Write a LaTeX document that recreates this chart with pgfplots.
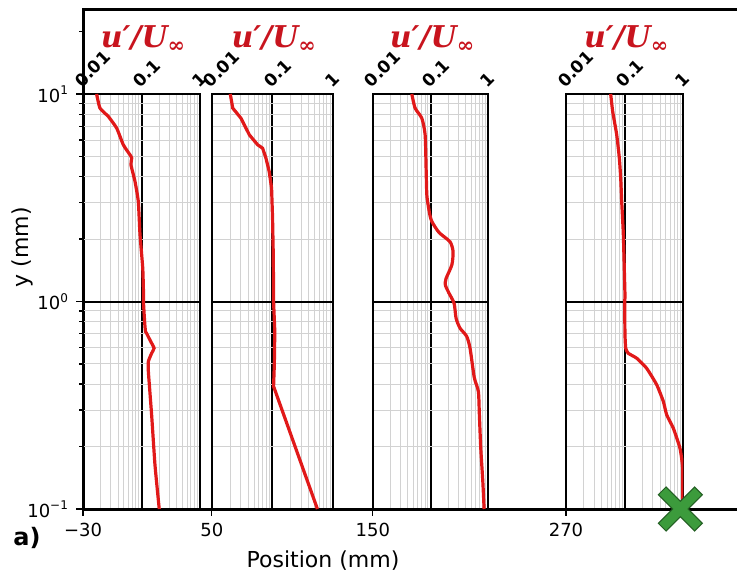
\documentclass[border=0pt]{standalone}
\usepackage{fontspec}
\setmainfont{DejaVu Sans}
\newfontfamily\tfont{DejaVu Serif}
\usepackage{pgfplots}
\pgfplotsset{compat=1.18}
\definecolor{linered}{RGB}{225,25,25}
\definecolor{titlered}{RGB}{200,20,30}
\definecolor{xgreen}{RGB}{60,155,60}
\definecolor{xdark}{RGB}{35,95,35}
\definecolor{gridgray}{RGB}{210,210,210}
\pgfplotsset{
  inset/.style={
    scale only axis, anchor=south west, height=207.5pt,
    xmin=0.01, xmax=1, ymin=0.1, ymax=10,
    xtick={0.01,0.1,1}, ytick={0.1,1,10},
    minor xtick={0.02,0.03,0.04,0.05,0.06,0.07,0.08,0.09,0.2,0.3,0.4,0.5,0.6,0.7,0.8,0.9},
    minor ytick={0.2,0.3,0.4,0.5,0.6,0.7,0.8,0.9,2,3,4,5,6,7,8,9},
    xticklabels={0.01,0.1,1}, yticklabels={},
    xticklabel pos=upper,
    xticklabel style={xshift=-0.4pt, yshift=2.5pt, rotate=45, anchor=south west, inner sep=0pt,
      font=\bfseries\fontsize{8.5}{9}\selectfont},
    major tick length=0pt, minor tick length=0pt,
    grid=both,
    major grid style={black, line width=1pt},
    minor grid style={gridgray, line width=0.5pt},
    axis line style={black, line width=1pt},
    title={\tfont\bfseries\itshape u′/U\textsubscript{∞}},
    title style={at={(axis description cs:0.5,1)}, anchor=base, xshift=1pt, yshift=17pt,
      text=titlered, font=\fontsize{15}{17}\selectfont},
  },
  prof/.style={linered, line width=1.6pt, no markers},
}
\begin{document}
\begin{tikzpicture}
\useasboundingbox (-41.5pt,-34pt) rectangle (327pt,254.5pt);
\begin{axis}[at={(0,0)}, anchor=south west, scale only axis,
  width=330.05pt, height=249.5pt, xmin=-30, xmax=380,
  ymode=log, ymin=0.1, ymax=25.4,
  xtick={-30,50,150,270}, xticklabels={−30,50,150,270},
  ytick={0.1,1,10}, yticklabels={10\textsuperscript{−1},10\textsuperscript{0},10\textsuperscript{1}},
  minor ytick={0.2,0.3,0.4,0.5,0.6,0.7,0.8,0.9,2,3,4,5,6,7,8,9,20},
  tick align=outside, xtick pos=left, ytick pos=left,
  major tick length=3.5pt, minor tick length=2pt,
  every tick/.style={black, line width=0.6pt},
  axis line style={line width=1.5pt},
  tick label style={font=\fontsize{9}{10}\selectfont},
  xlabel={Position (mm)}, ylabel={y (mm)},
  label style={font=\fontsize{11}{13}\selectfont},
  xlabel style={at={(axis description cs:0.3636,-0.1042)}, anchor=center},
  ylabel style={at={(axis description cs:-0.0924,0.525)}, anchor=center, rotate=0},
  title={a)},
  title style={at={(axis description cs:-0.0848,-0.0822)}, anchor=center,
    font=\bfseries\fontsize{12}{14}\selectfont},
  clip=false]
\coordinate (c1) at (axis cs:-30,0.1);
\coordinate (c2) at (axis cs:50,0.1);
\coordinate (c3) at (axis cs:150,0.1);
\coordinate (c4) at (axis cs:270,0.1);
\end{axis}

\begin{axis}[inset, xmode=log, ymode=log, at={(c1)}, width=58.5pt]
\addplot[prof, smooth, tension=0.3] coordinates {
(0.0171,10) (0.0195,8.55) (0.0271,7.79) (0.0377,6.84) (0.0489,5.69) (0.0636,5.09)
(0.068,4.91) (0.066,4.56) (0.0774,3.79) (0.0882,3.03) (0.0943,2.10) (0.105,1.45)
(0.108,1.12) (0.108,1.0) (0.113,0.80) (0.117,0.717) (0.123,0.70) (0.1436,0.642)
(0.164,0.596) (0.149,0.563) (0.131,0.514) (0.131,0.46) (0.149,0.284) (0.170,0.163) (0.201,0.1)};
\end{axis}

\begin{axis}[inset, xmode=log, ymode=log, at={(c2)}, width=60.5pt]
\addplot[prof] coordinates {
(0.0202,10) (0.0222,8.55) (0.0304,7.64) (0.0417,6.36) (0.0573,5.69) (0.0692,5.48)
(0.0785,4.91) (0.0889,4.23) (0.0973,3.52) (0.101,2.52) (0.1035,1.74) (0.105,1.12)
(0.105,1.0) (0.110,0.717) (0.108,0.495) (0.105,0.39) (0.557,0.1)};
\end{axis}

\begin{axis}[inset, xmode=log, ymode=log, at={(c3)}, width=57.8pt]
\addplot[prof, smooth, tension=0.4] coordinates {
(0.0473,10) (0.054,8.55) (0.0705,7.64) (0.0804,6.36) (0.0836,4.39) (0.086,3.27)
(0.091,2.9) (0.097,2.62) (0.105,2.43) (0.140,2.15) (0.217,1.94) (0.245,1.74)
(0.233,1.50) (0.185,1.29) (0.180,1.20) (0.207,1.10) (0.255,0.98) (0.276,0.83)
(0.323,0.744) (0.42,0.68) (0.481,0.596) (0.57,0.43) (0.671,0.368) (0.698,0.284)
(0.738,0.196) (0.8,0.136) (0.843,0.1)};
\end{axis}

\begin{axis}[inset, xmode=log, ymode=log, at={(c4)}, width=58.7pt]
\addplot[prof, smooth, tension=0.3] coordinates {
(0.0577,10) (0.0624,8.24) (0.0731,6.36) (0.081,4.91) (0.0855,3.93) (0.0889,3.03)
(0.0948,2.10) (0.101,1.08) (0.1,1.0) (0.101,0.7) (0.104,0.596) (0.115,0.563) (0.16,0.533)
(0.236,0.477) (0.351,0.397) (0.455,0.33) (0.52,0.284) (0.674,0.245) (0.875,0.196)
(0.972,0.157) (0.972,0.1)};
\end{axis}

\begin{axis}[at={(0,0)}, anchor=south west, scale only axis,
  width=330.05pt, height=249.5pt, xmin=-30, xmax=380,
  ymode=log, ymin=0.1, ymax=25.4, hide axis, clip=false]
\addplot[only marks, mark=x, mark size=13.1pt, mark options={draw=xdark, line width=6pt}] coordinates {(341,0.1)};
\addplot[only marks, mark=x, mark size=12.5pt, mark options={draw=xgreen, line width=4.8pt}] coordinates {(341,0.1)};
\end{axis}
\end{tikzpicture}
\end{document}
